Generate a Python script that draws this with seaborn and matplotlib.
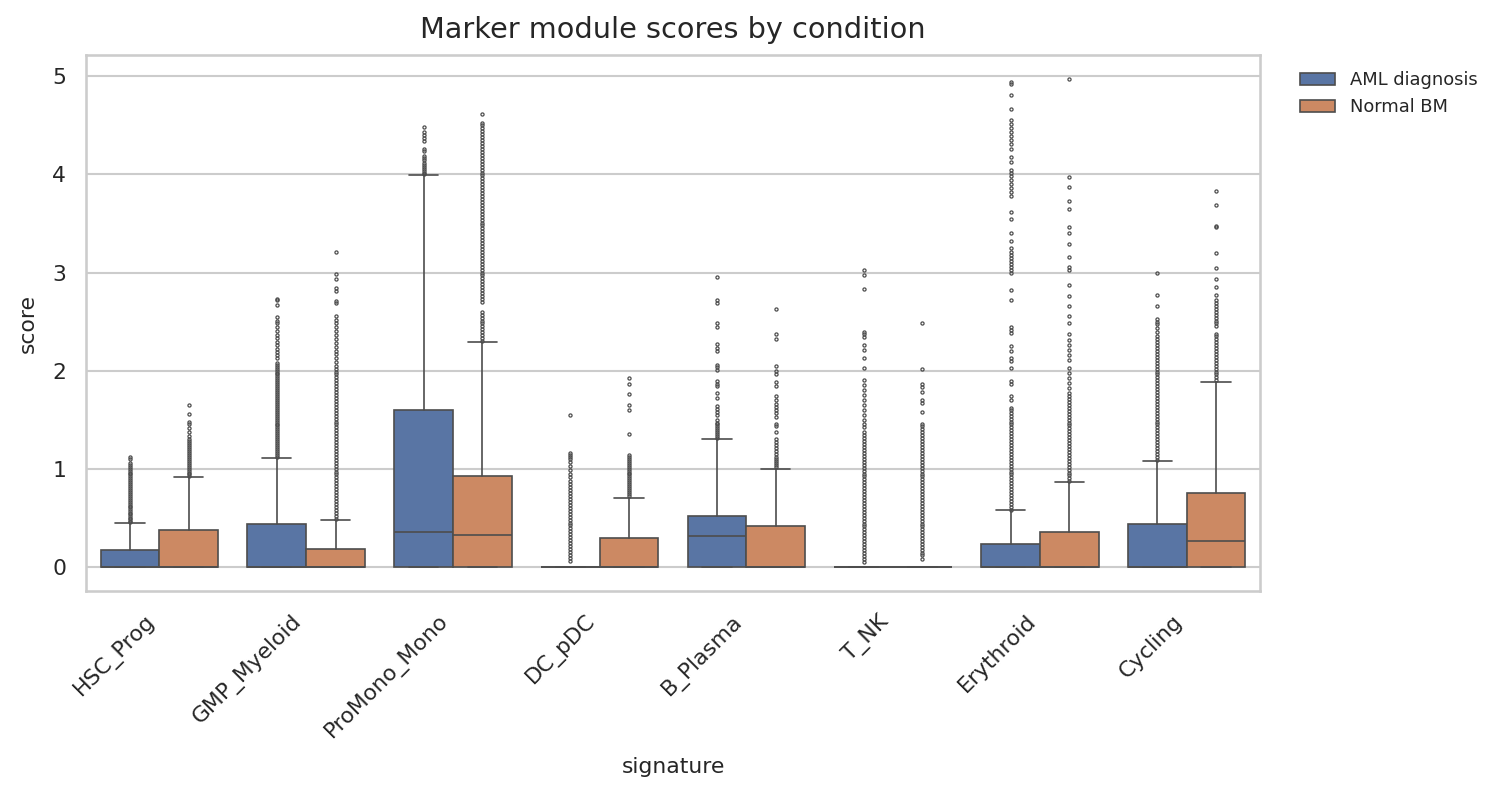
import numpy as np
import matplotlib
matplotlib.use("Agg")
import matplotlib.pyplot as plt
from matplotlib.patches import Patch
import seaborn as sns

# categories and conditions
signatures = ["HSC_Prog", "GMP_Myeloid", "ProMono_Mono", "DC_pDC",
              "B_Plasma", "T_NK", "Erythroid", "Cycling"]
conditions = ["AML diagnosis", "Normal BM"]

# box summaries (one value per signature)
aml_q1 = [0.0, 0.0, 0.0, 0.0, 0.0, 0.0, 0.0, 0.0]
aml_med = [0.0, 0.0, 0.35, 0.0, 0.31, 0.0, 0.0, 0.0]
aml_q3 = [0.17, 0.44, 1.60, 0.0, 0.52, 0.0, 0.235, 0.43]
aml_whishi = [0.45, 1.11, 3.99, 0.0, 1.30, 0.0, 0.575, 1.075]

nbm_q1 = [0.0, 0.0, 0.0, 0.0, 0.0, 0.0, 0.0, 0.0]
nbm_med = [0.0, 0.0, 0.32, 0.0, 0.0, 0.0, 0.0, 0.26]
nbm_q3 = [0.37, 0.18, 0.92, 0.29, 0.41, 0.0, 0.35, 0.755]
nbm_whishi = [0.91, 0.48, 2.29, 0.70, 1.00, 0.0, 0.86, 1.88]

# outliers, AML diagnosis
hsc_aml_out = [0.46, 0.47, 0.49, 0.50, 0.52, 0.54, 0.55, 0.57, 0.59, 0.61, 0.62, 0.64,
               0.66, 0.68, 0.70, 0.72, 0.74, 0.76, 0.78, 0.80, 0.82, 0.84, 0.86, 0.88,
               0.90, 0.92, 0.94, 0.96, 0.98, 1.00, 1.02, 1.04, 1.06, 1.10, 1.12]
gmp_aml_out = [1.12, 1.14, 1.16, 1.18, 1.20, 1.22, 1.24, 1.26, 1.28, 1.30, 1.32, 1.34,
               1.36, 1.38, 1.40, 1.42, 1.44, 1.46, 1.48, 1.50, 1.52, 1.54, 1.56, 1.58,
               1.60, 1.62, 1.64, 1.66, 1.68, 1.70, 1.72, 1.74, 1.76, 1.78, 1.80, 1.82,
               1.84, 1.86, 1.88, 1.90, 1.92, 1.94, 1.96, 1.98, 2.00, 2.02, 2.04, 2.06,
               2.08, 2.13, 2.16, 2.19, 2.22, 2.26, 2.29, 2.33, 2.36, 2.40, 2.44, 2.48,
               2.51, 2.55, 2.67, 2.72, 2.73]
promono_aml_out = [4.00, 4.02, 4.04, 4.06, 4.08, 4.10, 4.12, 4.15, 4.17, 4.19, 4.24,
                   4.26, 4.34, 4.37, 4.40, 4.43, 4.48]
dc_aml_out = [0.06, 0.09, 0.12, 0.15, 0.18, 0.21, 0.24, 0.27, 0.30, 0.33, 0.36, 0.39,
              0.42, 0.45, 0.48, 0.51, 0.54, 0.57, 0.60, 0.63, 0.66, 0.69, 0.72, 0.75,
              0.78, 0.81, 0.84, 0.87, 0.91, 0.95, 0.99, 1.03, 1.07, 1.10, 1.12, 1.14,
              1.16, 1.55]
b_aml_out = [1.31, 1.33, 1.35, 1.37, 1.39, 1.41, 1.43, 1.45, 1.47, 1.50, 1.55, 1.58,
             1.61, 1.64, 1.72, 1.77, 1.84, 1.86, 1.89, 2.01, 2.04, 2.06, 2.20, 2.23,
             2.27, 2.44, 2.49, 2.69, 2.72, 2.95]
tnk_aml_out = [0.05, 0.08, 0.11, 0.14, 0.17, 0.20, 0.23, 0.26, 0.29, 0.32, 0.35, 0.38,
               0.41, 0.44, 0.47, 0.50, 0.53, 0.56, 0.59, 0.62, 0.65, 0.68, 0.71, 0.74,
               0.77, 0.80, 0.83, 0.86, 0.89, 0.92, 0.95, 0.98, 1.01, 1.04, 1.07, 1.10,
               1.13, 1.16, 1.19, 1.22, 1.25, 1.28, 1.31, 1.34, 1.37, 1.42, 1.46, 1.50,
               1.55, 1.60, 1.65, 1.70, 1.75, 1.80, 1.85, 1.90, 2.03, 2.13, 2.21, 2.26,
               2.34, 2.37, 2.39, 2.83, 2.97, 3.03]
ery_aml_out = [0.58, 0.61, 0.64, 0.67, 0.70, 0.73, 0.76, 0.79, 0.82, 0.85, 0.88, 0.91,
               0.94, 0.97, 1.00, 1.03, 1.06, 1.09, 1.12, 1.15, 1.18, 1.21, 1.24, 1.27,
               1.30, 1.33, 1.36, 1.39, 1.42, 1.45, 1.48, 1.51, 1.54, 1.57, 1.60, 1.62,
               1.70, 1.74, 1.86, 1.89, 2.03, 2.10, 2.13, 2.20, 2.25, 2.38, 2.41, 2.44,
               2.72, 2.82, 3.00, 3.03, 3.06, 3.09, 3.12, 3.15, 3.18, 3.21, 3.25, 3.32,
               3.40, 3.55, 3.62, 3.78, 3.82, 3.86, 3.90, 3.94, 3.98, 4.01, 4.05, 4.13,
               4.18, 4.26, 4.31, 4.35, 4.39, 4.43, 4.47, 4.51, 4.56, 4.67, 4.81, 4.92,
               4.94]
cyc_aml_out = [1.09, 1.12, 1.15, 1.18, 1.21, 1.24, 1.27, 1.30, 1.33, 1.36, 1.39, 1.42,
               1.45, 1.48, 1.51, 1.54, 1.57, 1.60, 1.63, 1.66, 1.69, 1.72, 1.75, 1.78,
               1.81, 1.84, 1.87, 1.90, 1.93, 1.96, 1.99, 2.02, 2.05, 2.08, 2.11, 2.14,
               2.17, 2.20, 2.23, 2.26, 2.29, 2.32, 2.35, 2.39, 2.43, 2.47, 2.50, 2.53,
               2.66, 2.77, 2.99]

# outliers, Normal BM
hsc_nbm_out = [0.92, 0.94, 0.96, 0.98, 1.00, 1.02, 1.04, 1.06, 1.08, 1.10, 1.12, 1.14,
               1.16, 1.18, 1.20, 1.22, 1.24, 1.26, 1.28, 1.30, 1.33, 1.37, 1.41, 1.46,
               1.48, 1.56, 1.65]
gmp_nbm_out = [0.49, 0.52, 0.55, 0.58, 0.61, 0.64, 0.67, 0.70, 0.73, 0.76, 0.79, 0.82,
               0.85, 0.88, 0.91, 0.94, 0.97, 1.00, 1.03, 1.06, 1.09, 1.12, 1.15, 1.18,
               1.21, 1.24, 1.27, 1.30, 1.33, 1.36, 1.39, 1.42, 1.45, 1.48, 1.51, 1.54,
               1.57, 1.60, 1.63, 1.66, 1.69, 1.72, 1.75, 1.78, 1.81, 1.84, 1.87, 1.90,
               1.93, 1.96, 1.99, 2.02, 2.05, 2.09, 2.13, 2.17, 2.20, 2.24, 2.28, 2.32,
               2.36, 2.40, 2.44, 2.48, 2.52, 2.56, 2.69, 2.71, 2.81, 2.84, 2.93, 2.98,
               3.21]
promono_nbm_out = [2.30, 2.33, 2.36, 2.39, 2.42, 2.45, 2.48, 2.51, 2.54, 2.57, 2.60,
                   2.70, 2.73, 2.76, 2.79, 2.82, 2.85, 2.88, 2.91, 2.94, 2.97, 3.00,
                   3.03, 3.06, 3.09, 3.12, 3.15, 3.18, 3.21, 3.24, 3.27, 3.30, 3.33,
                   3.36, 3.39, 3.42, 3.45, 3.48, 3.51, 3.54, 3.57, 3.60, 3.63, 3.66,
                   3.69, 3.72, 3.75, 3.78, 3.81, 3.84, 3.87, 3.90, 3.93, 3.96, 3.99,
                   4.02, 4.05, 4.08, 4.11, 4.14, 4.17, 4.20, 4.23, 4.26, 4.29, 4.32,
                   4.35, 4.38, 4.41, 4.44, 4.47, 4.50, 4.53, 4.62]
dc_nbm_out = [0.72, 0.74, 0.76, 0.78, 0.80, 0.82, 0.84, 0.86, 0.88, 0.90, 0.92, 0.94,
              0.96, 0.98, 1.00, 1.02, 1.04, 1.06, 1.08, 1.10, 1.12, 1.14, 1.35, 1.60,
              1.65, 1.76, 1.86, 1.92]
b_nbm_out = [1.02, 1.04, 1.06, 1.08, 1.10, 1.12, 1.15, 1.18, 1.21, 1.24, 1.27, 1.30,
             1.37, 1.43, 1.45, 1.53, 1.57, 1.60, 1.63, 1.66, 1.70, 1.74, 1.84, 1.88,
             1.96, 2.00, 2.05, 2.32, 2.37, 2.63]
tnk_nbm_out = [0.08, 0.12, 0.14, 0.17, 0.20, 0.23, 0.26, 0.29, 0.32, 0.35, 0.38, 0.41,
               0.44, 0.47, 0.50, 0.53, 0.56, 0.59, 0.62, 0.65, 0.68, 0.71, 0.74, 0.77,
               0.80, 0.83, 0.86, 0.89, 0.92, 0.95, 0.98, 1.01, 1.04, 1.07, 1.10, 1.13,
               1.16, 1.19, 1.22, 1.25, 1.28, 1.31, 1.34, 1.37, 1.40, 1.43, 1.46, 1.58,
               1.67, 1.70, 1.78, 1.83, 1.86, 2.02, 2.49]
ery_nbm_out = [0.87, 0.90, 0.93, 0.96, 0.99, 1.02, 1.05, 1.08, 1.11, 1.14, 1.17, 1.20,
               1.23, 1.26, 1.29, 1.32, 1.35, 1.38, 1.41, 1.44, 1.47, 1.50, 1.53, 1.56,
               1.59, 1.62, 1.65, 1.68, 1.71, 1.74, 1.77, 1.82, 1.87, 1.92, 1.97, 2.03,
               2.11, 2.16, 2.21, 2.26, 2.31, 2.37, 2.49, 2.56, 2.66, 2.76, 2.87, 3.03,
               3.06, 3.16, 3.29, 3.40, 3.46, 3.65, 3.73, 3.87, 3.97, 4.97]
cyc_nbm_out = [1.90, 1.93, 1.96, 1.99, 2.02, 2.05, 2.08, 2.11, 2.14, 2.17, 2.20, 2.23,
               2.26, 2.29, 2.32, 2.35, 2.37, 2.45, 2.48, 2.51, 2.54, 2.57, 2.60, 2.63,
               2.66, 2.69, 2.72, 2.77, 2.85, 2.93, 3.05, 3.20, 3.46, 3.47, 3.69, 3.83]

aml_out = [hsc_aml_out, gmp_aml_out, promono_aml_out, dc_aml_out,
           b_aml_out, tnk_aml_out, ery_aml_out, cyc_aml_out]
nbm_out = [hsc_nbm_out, gmp_nbm_out, promono_nbm_out, dc_nbm_out,
           b_nbm_out, tnk_nbm_out, ery_nbm_out, cyc_nbm_out]


def box_stats(q1, med, q3, whishi, fliers):
    # bxp wants one dict per box
    return [dict(q1=a, med=m, q3=b, whislo=a, whishi=w, fliers=f)
            for a, m, b, w, f in zip(q1, med, q3, whishi, fliers)]


sns.set_theme(style="whitegrid")
fig, ax = plt.subplots(figsize=(9.993, 5.3), dpi=150)
fig.subplots_adjust(left=0.0574, right=0.8406, top=0.9308, bottom=0.2566)

colors = sns.color_palette("deep", 2, desat=0.75)
gray = (0.30, 0.30, 0.30)
lw = 0.8

groups = [box_stats(aml_q1, aml_med, aml_q3, aml_whishi, aml_out),
          box_stats(nbm_q1, nbm_med, nbm_q3, nbm_whishi, nbm_out)]
offsets = [-0.2, 0.2]
pos = np.arange(len(signatures))

for stats, off, col in zip(groups, offsets, colors):
    ax.bxp(stats, positions=pos + off, widths=0.4, patch_artist=True,
           manage_ticks=False,
           boxprops=dict(facecolor=col, edgecolor=gray, linewidth=lw),
           medianprops=dict(color=gray, linewidth=lw),
           whiskerprops=dict(color=gray, linewidth=lw),
           capprops=dict(color=gray, linewidth=lw),
           flierprops=dict(marker="o", markersize=1.5, markerfacecolor="none",
                           markeredgecolor=gray, markeredgewidth=0.6))

ax.set_xlim(-0.5, len(signatures) - 0.5)
ax.set_xticks(pos)
ax.set_xticklabels(signatures, rotation=45, ha="right")
ax.set_yticks([0, 1, 2, 3, 4, 5])
ax.tick_params(labelsize=10.5)
ax.xaxis.grid(False)
ax.set_xlabel("signature", fontsize=10.5, labelpad=7)
ax.set_ylabel("score", fontsize=10.5, labelpad=7)
ax.set_title("Marker module scores by condition", fontsize=13.8, pad=8)

handles = [Patch(facecolor=c, edgecolor=gray, linewidth=lw) for c in colors]
ax.legend(handles, conditions, loc="upper left", bbox_to_anchor=(1.02, 1),
          frameon=False, fontsize=8.6)

fig.savefig("out.png", dpi=150)
